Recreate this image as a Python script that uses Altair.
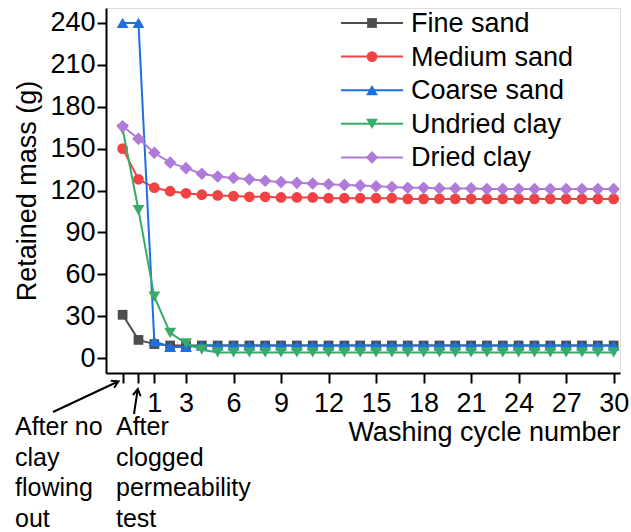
import altair as alt
import pandas as pd

# Washing cycles: -1 = after no clay flowing out, 0 = after clogged permeability test
cycles = [-1, 0, 1, 2, 3, 4, 5, 6, 7, 8, 9, 10, 11, 12, 13, 14, 15,
          16, 17, 18, 19, 20, 21, 22, 23, 24, 25, 26, 27, 28, 29, 30]

fine_sand = [31, 13, 10, 9, 9, 9, 9, 9, 9, 9, 9, 9, 9, 9, 9, 9,
             9, 9, 9, 9, 9, 9, 9, 9, 9, 9, 9, 9, 9, 9, 9, 9]
medium_sand = [150, 128, 122, 119.5, 118, 117, 116.5, 116, 115.5, 115.5, 115, 115,
               115, 114.5, 114.5, 114.5, 114.5, 114.5, 114, 114, 114, 114, 114, 114,
               114, 114, 114, 114, 114, 114, 114, 114]
coarse_sand = [240, 240, 12, 8, 8, 9, 9, 9, 9, 9, 9, 9, 9, 9, 9, 9,
               9, 9, 9, 9, 9, 9, 9, 9, 9, 9, 9, 9, 9, 9, 9, 9]
undried_clay = [164, 106, 44, 18, 10.5, 6, 4, 4, 4, 4, 4, 4, 4, 4, 4, 4,
                4, 4, 4, 4, 4, 4, 4, 4, 4, 4, 4, 4, 4, 4, 4, 4]
dried_clay = [166, 157, 147, 140, 136, 132, 130, 129, 128, 127, 126, 125.5,
              125, 124.5, 124, 123.5, 123, 122.5, 122, 122, 121.5, 121.5, 121.5, 121,
              121, 121, 121, 121, 121, 121, 121, 121]

series_names = ["Fine sand", "Medium sand", "Coarse sand", "Undried clay", "Dried clay"]
series_values = [fine_sand, medium_sand, coarse_sand, undried_clay, dried_clay]
series_colors = ["#4d4d4d", "#f04242", "#1f6fe0", "#38aa6a", "#b07ad9"]
series_shapes = ["square", "circle", "triangle-up", "triangle-down", "diamond"]
marker_sizes = [95, 115, 140, 140, 160]

x_ticks = [-1, 0, 1, 3, 6, 9, 12, 15, 18, 21, 24, 27, 30]
y_ticks = [0, 30, 60, 90, 120, 150, 180, 210, 240]

FONT = "Liberation Sans"
FS = 27

rows = []
for name, vals in zip(series_names, series_values):
    for c, v in zip(cycles, vals):
        rows.append({"series": name, "cycle": c, "mass": v})
df = pd.DataFrame(rows)

color_scale = alt.Scale(domain=series_names, range=series_colors)
shape_scale = alt.Scale(domain=series_names, range=series_shapes)

x_enc = alt.X(
    "cycle:Q",
    scale=alt.Scale(domain=[-2.05, 30.4], nice=False, zero=False),
    axis=alt.Axis(
        values=x_ticks,
        labelExpr="datum.value < 1 ? '' : datum.label",
        grid=False,
        tickSize=10, tickWidth=2, tickColor="black",
        domainWidth=2, domainColor="black",
        labelFont=FONT, labelFontSize=FS, labelColor="black", labelPadding=7,
        labelFlush=False, labelOverlap=False,
        title="Washing cycle number", titleFont=FONT, titleFontSize=FS,
        titleFontWeight="normal", titleColor="black",
        titleAnchor="end", titleY=67, titleBaseline="alphabetic",
    ),
)
y_enc = alt.Y(
    "mass:Q",
    scale=alt.Scale(domain=[-10.7, 250.7], nice=False, zero=False),
    axis=alt.Axis(
        values=y_ticks,
        grid=False,
        tickSize=9, tickWidth=2, tickColor="black",
        domainWidth=2, domainColor="black",
        labelFont=FONT, labelFontSize=FS, labelColor="black", labelPadding=2,
        labelFlush=False, labelOverlap=False,
        title="Retained mass (g)", titleFont=FONT, titleFontSize=FS,
        titleFontWeight="normal", titleColor="black", titlePadding=8,
    ),
)

layers = []
for name, size in zip(series_names, marker_sizes):
    sub = alt.Chart(df).transform_filter(alt.datum.series == name)
    line = sub.mark_line(strokeWidth=2).encode(
        x=x_enc, y=y_enc,
        color=alt.Color("series:N", scale=color_scale, legend=None),
        order="cycle:Q",
    )
    pts = sub.mark_point(filled=True, opacity=1, size=size).encode(
        x=x_enc, y=y_enc,
        color=alt.Color("series:N", scale=color_scale, legend=None),
        shape=alt.Shape("series:N", scale=shape_scale, legend=None),
    )
    layers += [line, pts]

# Legend in the upper right: line sample, marker and name for each series
legend_df = pd.DataFrame({"series": series_names, "rank": list(range(len(series_names))),
                          "msize": marker_sizes})
leg = alt.Chart(legend_df).transform_calculate(ly="15 + 33.6 * datum.rank")
leg_y = alt.Y("ly:Q", scale=None, axis=None)
leg_line = leg.mark_rule(strokeWidth=2).encode(
    x=alt.value(235), x2=alt.value(297), y=leg_y,
    color=alt.Color("series:N", scale=color_scale, legend=None),
)
leg_pts = leg.mark_point(filled=True, opacity=1).encode(
    x=alt.value(266), y=leg_y,
    color=alt.Color("series:N", scale=color_scale, legend=None),
    shape=alt.Shape("series:N", scale=shape_scale, legend=None),
    size=alt.Size("msize:Q", scale=None, legend=None),
)
leg_txt = leg.mark_text(align="left", baseline="middle", font=FONT, fontSize=FS,
                        color="black", dy=1).encode(
    x=alt.value(305), y=leg_y, text="series:N",
)

# Notes under the two pre-washing ticks, with arrows
note_font = dict(font=FONT, fontSize=25, color="black", align="left",
                 baseline="alphabetic", lineHeight=30.5)
note1 = alt.Chart(pd.DataFrame({"k": [0]})).mark_text(
    text=["After no", "clay", "flowing", "out"], **note_font
).encode(x=alt.value(-91), y=alt.value(427))
note2 = alt.Chart(pd.DataFrame({"k": [0]})).mark_text(
    text=["After", "clogged", "permeability", "test"], **note_font
).encode(x=alt.value(10), y=alt.value(427))

arrow1 = alt.Chart(pd.DataFrame({"k": [0]})).mark_rule(strokeWidth=2, color="black").encode(
    x=alt.value(-53), x2=alt.value(11), y=alt.value(404), y2=alt.value(374))
arrow2 = alt.Chart(pd.DataFrame({"k": [0]})).mark_rule(strokeWidth=2, color="black").encode(
    x=alt.value(28), x2=alt.value(31.6), y=alt.value(406), y2=alt.value(382))
head_path = "M-0.55,0.95L0,0L0.55,0.95"
head1 = alt.Chart(pd.DataFrame({"k": [0]})).mark_point(
    shape=head_path, filled=False, strokeWidth=2, color="black", size=200, angle=64.5,
    opacity=1).encode(x=alt.value(12.5), y=alt.value(373.3))
head2 = alt.Chart(pd.DataFrame({"k": [0]})).mark_point(
    shape=head_path, filled=False, strokeWidth=2, color="black", size=200, angle=9,
    opacity=1).encode(x=alt.value(31.8), y=alt.value(381))

chart = alt.layer(
    *layers, leg_line, leg_pts, leg_txt, note1, note2, arrow1, arrow2, head1, head2
).properties(
    width=514, height=365,
    autosize=alt.AutoSizeParams(type="none"),
    padding={"left": 106, "top": 8, "right": 11, "bottom": 159},
).configure_view(stroke=None).configure(background="white")

chart.save("out.html", embed_options={"renderer": "svg", "actions": False})
